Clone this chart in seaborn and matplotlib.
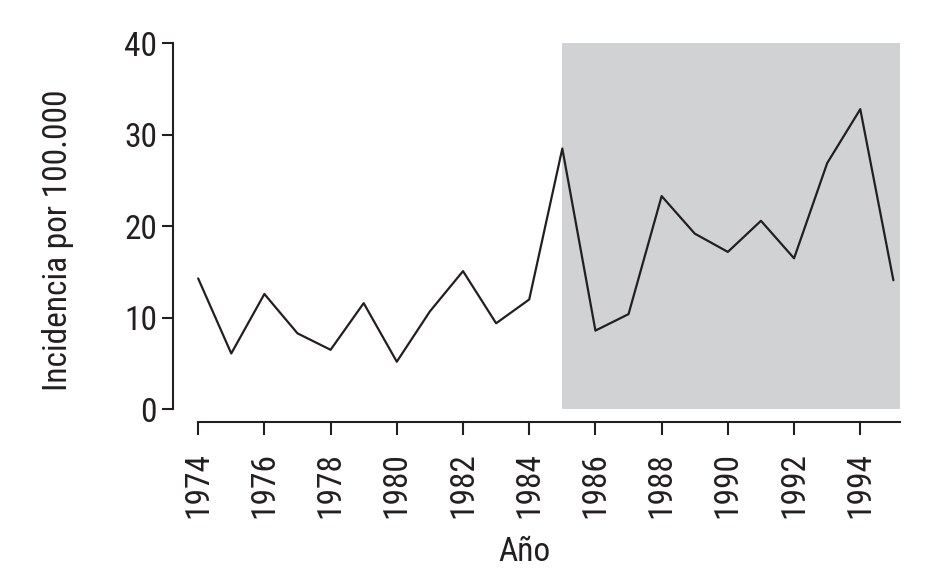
import seaborn as sns
import pandas as pd
import matplotlib.pyplot as plt

years = list(range(1974, 1996))
incidence = [14.3, 6.1, 12.6, 8.3, 6.5, 11.6, 5.2, 10.7, 15.1, 9.4, 12.0,
             28.5, 8.6, 10.4, 23.3, 19.2, 17.2, 20.6, 16.5, 26.9, 32.8, 14.1]
shade_years = [1985, 1995.2]
shade_range = [0, 40]
xticks = list(range(1974, 1996, 2))
yticks = [0, 10, 20, 30, 40]

data = pd.DataFrame({"Año": years, "Incidencia": incidence})

sns.set_style("ticks")
plt.rcParams['font.family'] = ['Roboto Condensed', 'Liberation Sans', 'DejaVu Sans']
ink = '#231f20'

fig = plt.figure(figsize=(9.29, 5.75), dpi=100)
ax = fig.add_axes([173 / 929, 1 - 422 / 575, 727 / 929, (422 - 43.3) / 575])

ax.fill_between(shade_years, shade_range[0], shade_range[1], color='#d1d2d4', lw=0, zorder=1)
sns.lineplot(x="Año", y="Incidencia", data=data, color=ink, lw=1.6, ax=ax, zorder=3)

ax.set_xlim(1973.24, 1995.2)
ax.set_ylim(-1.39, 40)
ax.set_xticks(xticks)
ax.set_yticks(yticks)
ax.set_xticklabels([str(y) for y in xticks], rotation=90, fontsize=24, color=ink)
ax.set_yticklabels([str(y) for y in yticks], fontsize=24, color=ink)
ax.tick_params(axis='x', length=9.5, width=1.5, pad=12, color=ink)
ax.tick_params(axis='y', length=8, width=1.5, pad=3.5, color=ink)

for s in ['top', 'right']:
    ax.spines[s].set_visible(False)
for s in ['left', 'bottom']:
    ax.spines[s].set_linewidth(1.5)
    ax.spines[s].set_color(ink)
ax.spines['left'].set_bounds(0, 40)
ax.spines['bottom'].set_bounds(1974, 1995.2)

ax.set_xlabel('Año', fontsize=24, color=ink)
ax.set_ylabel('Incidencia por 100.000', fontsize=24, color=ink)
ax.xaxis.set_label_coords(0.483, -0.300)
ax.yaxis.set_label_coords(-0.136, 0.48)

fig.savefig('out.png', dpi=100)
